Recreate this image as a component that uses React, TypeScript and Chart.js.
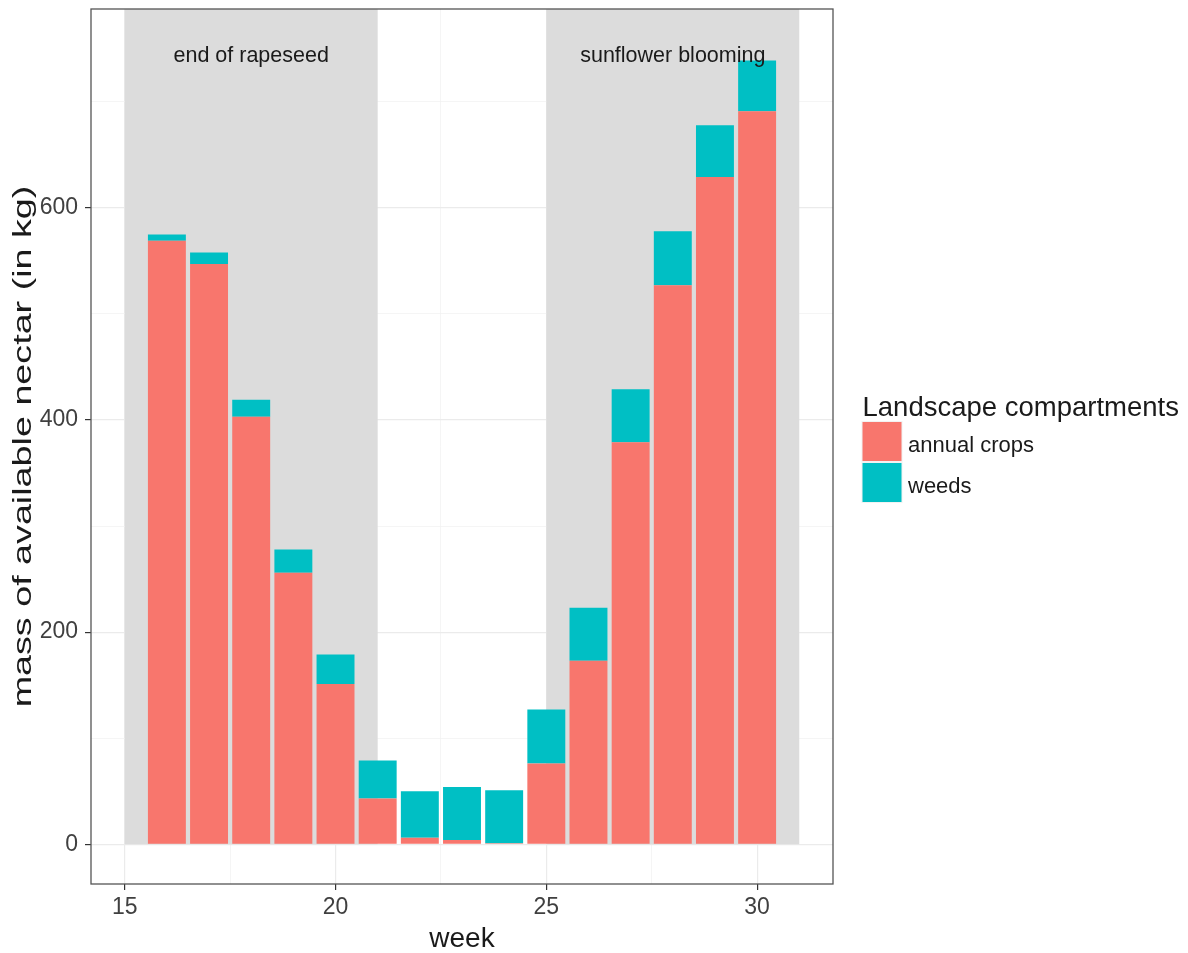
import React, { useEffect, useRef } from 'react';
import { Chart, registerables } from 'chart.js';

Chart.register(...registerables);

// ---- data ----
const weeks = [16, 17, 18, 19, 20, 21, 22, 23, 24, 25, 26, 27, 28, 29, 30];
const annualCrops = [569, 547, 403, 256, 151, 43, 6, 4, 1, 76, 173, 379, 527, 629, 691];
const weeds = [6, 11, 16, 22, 28, 36, 44, 50, 50, 51, 50, 50, 51, 49, 48];
const seriesLabels = ['annual crops', 'weeds'];
const seriesColors = ['#F8766D', '#00BFC4'];
const legendTitle = 'Landscape compartments';
const xTitle = 'week';
const yTitle = 'mass of available nectar (in kg)';
const xTickValues = [15, 17.5, 20, 22.5, 25, 27.5, 30];
const xMajorTicks = [15, 20, 25, 30];
const yTickValues = [0, 100, 200, 300, 400, 500, 600, 700];
const yMajorTicks = [0, 200, 400, 600];
const periodStart = [15, 25];
const periodEnd = [21, 31];
const periodLabels = ['end of rapeseed', 'sunflower blooming'];
const periodLabelX = [18, 28];
const periodLabelY = 750;

const FONT = '"Liberation Sans", Arial, Helvetica, sans-serif';

const periodsPlugin = {
  id: 'periods',
  beforeDatasetsDraw(chart: any) {
    const { ctx, chartArea, scales } = chart;
    const x = scales.x;
    const y = scales.y;
    ctx.save();
    ctx.fillStyle = '#DCDCDC';
    for (let i = 0; i < periodStart.length; i++) {
      const x0 = x.getPixelForValue(periodStart[i]);
      const x1 = x.getPixelForValue(periodEnd[i]);
      const y1 = y.getPixelForValue(0);
      ctx.fillRect(x0, chartArea.top, x1 - x0, y1 - chartArea.top);
    }
    ctx.restore();
  },
  afterDatasetsDraw(chart: any) {
    const { ctx, scales } = chart;
    const x = scales.x;
    const y = scales.y;
    ctx.save();
    ctx.fillStyle = '#1A1A1A';
    ctx.font = '21.5px ' + FONT;
    ctx.textAlign = 'center';
    ctx.textBaseline = 'alphabetic';
    for (let i = 0; i < periodLabels.length; i++) {
      ctx.fillText(periodLabels[i], x.getPixelForValue(periodLabelX[i]), y.getPixelForValue(periodLabelY) + 13);
    }
    ctx.restore();
  },
  afterDraw(chart: any) {
    const { ctx, chartArea } = chart;
    ctx.save();
    // panel border
    ctx.strokeStyle = '#555555';
    ctx.lineWidth = 1.3;
    ctx.strokeRect(chartArea.left, chartArea.top, chartArea.right - chartArea.left, chartArea.bottom - chartArea.top);
    // y axis title (stretched along its baseline like the reference)
    ctx.save();
    ctx.translate(24, (chartArea.top + chartArea.bottom) / 2);
    ctx.rotate(-Math.PI / 2);
    ctx.scale(1.45, 1);
    ctx.fillStyle = '#1A1A1A';
    ctx.font = '26px ' + FONT;
    ctx.textAlign = 'center';
    ctx.textBaseline = 'middle';
    ctx.fillText(yTitle, 0, 0);
    ctx.restore();
    // legend
    const lx = 862.5;
    ctx.fillStyle = '#1A1A1A';
    ctx.font = '27.5px ' + FONT;
    ctx.textAlign = 'left';
    ctx.textBaseline = 'alphabetic';
    ctx.fillText(legendTitle, lx, 416);
    const ds = chart.data.datasets;
    ctx.font = '22px ' + FONT;
    for (let i = 0; i < ds.length; i++) {
      const ky = 422 + i * 41;
      ctx.fillStyle = '#F2F2F2';
      ctx.fillRect(lx - 1, ky - 1, 41, 41);
      ctx.fillStyle = ds[i].backgroundColor;
      ctx.fillRect(lx, ky, 39, 39);
      ctx.fillStyle = '#1A1A1A';
      ctx.fillText(ds[i].label, 908, ky + 30);
    }
    ctx.restore();
  },
};

export default function App() {
  const canvasRef = useRef<HTMLCanvasElement | null>(null);

  useEffect(() => {
    const canvas = canvasRef.current;
    if (!canvas) return;
    const chart = new Chart(canvas, {
      type: 'bar',
      data: {
        datasets: [
          {
            label: seriesLabels[0],
            data: weeks.map((w, i) => ({ x: w, y: annualCrops[i] })),
            backgroundColor: seriesColors[0],
            borderWidth: 0,
            barPercentage: 0.9,
            categoryPercentage: 1,
          },
          {
            label: seriesLabels[1],
            data: weeks.map((w, i) => ({ x: w, y: weeds[i] })),
            backgroundColor: seriesColors[1],
            borderWidth: 0,
            barPercentage: 0.9,
            categoryPercentage: 1,
          },
        ],
      },
      options: {
        animation: false,
        responsive: false,
        maintainAspectRatio: false,
        layout: { autoPadding: false, padding: { top: 9, right: 355, left: 0, bottom: 0 } },
        font: { family: FONT },
        plugins: {
          legend: { display: false },
          tooltip: { enabled: false },
        },
        scales: {
          x: {
            type: 'linear',
            stacked: true,
            offset: false,
            min: 14.2,
            max: 31.8,
            afterBuildTicks: (scale: any) => {
              scale.ticks = xTickValues.map((v) => ({ value: v }));
            },
            afterFit: (scale: any) => {
              scale.height = 69;
              scale.paddingLeft = 0;
              scale.paddingRight = 0;
            },
            grid: {
              offset: false,
              color: (c: any) => (xMajorTicks.includes(c.tick?.value) ? '#EBEBEB' : '#F3F3F3'),
              lineWidth: (c: any) => (xMajorTicks.includes(c.tick?.value) ? 1.2 : 0.8),
              tickColor: (c: any) => (xMajorTicks.includes(c.tick?.value) ? '#333333' : 'rgba(0,0,0,0)'),
              tickLength: 6,
              drawTicks: true,
            },
            border: { display: false },
            ticks: {
              autoSkip: false,
              maxRotation: 0,
              padding: 4,
              color: '#404040',
              font: { family: FONT, size: 23, lineHeight: 1.2 },
              callback: (v: any) => (xMajorTicks.includes(Number(v)) ? String(v) : ''),
            },
            title: {
              display: true,
              text: xTitle,
              color: '#1A1A1A',
              font: { family: FONT, size: 28, lineHeight: 1 },
              padding: { top: 0, bottom: 0 },
            },
          },
          y: {
            type: 'linear',
            stacked: true,
            min: -37.5,
            max: 787.5,
            afterBuildTicks: (scale: any) => {
              scale.ticks = yTickValues.map((v) => ({ value: v }));
            },
            afterFit: (scale: any) => {
              scale.width = 91;
              scale.paddingTop = 0;
              scale.paddingBottom = 0;
            },
            grid: {
              color: (c: any) => (yMajorTicks.includes(c.tick?.value) ? '#EBEBEB' : '#F3F3F3'),
              lineWidth: (c: any) => (yMajorTicks.includes(c.tick?.value) ? 1.2 : 0.8),
              tickColor: (c: any) => (yMajorTicks.includes(c.tick?.value) ? '#333333' : 'rgba(0,0,0,0)'),
              tickLength: 6,
              drawTicks: true,
            },
            border: { display: false },
            ticks: {
              autoSkip: false,
              padding: 7,
              color: '#404040',
              font: { family: FONT, size: 23, lineHeight: 1.2 },
              callback: (v: any) => (yMajorTicks.includes(Number(v)) ? String(v) : ''),
            },
            title: { display: false, text: yTitle },
          },
        },
      },
      plugins: [periodsPlugin],
    } as any);
    return () => chart.destroy();
  }, []);

  return (
    <div style={{ position: 'fixed', left: 0, top: 0, width: 1188, height: 953, background: '#FFFFFF' }}>
      <canvas ref={canvasRef} width={1188} height={953} style={{ display: 'block' }} />
    </div>
  );
}
